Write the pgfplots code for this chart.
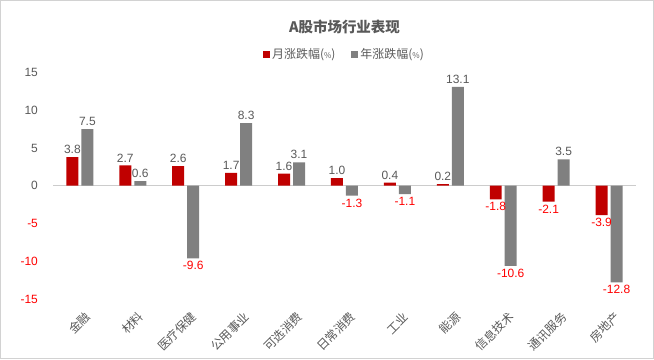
\documentclass[border=0pt]{standalone}
\usepackage{pgfplots}
\pgfplotsset{compat=1.18}
\usepackage{fontspec}
\setmainfont{Liberation Sans}
\newfontfamily\cjk{Noto Sans CJK SC}
\definecolor{mred}{HTML}{C00000}
\definecolor{mgray}{HTML}{808080}
\definecolor{tgray}{HTML}{595959}
\definecolor{nred}{HTML}{FF0000}
\begin{document}
\begin{tikzpicture}
\path[use as bounding box, draw=gray!35, line width=1pt] (-53pt,-60pt) rectangle (601pt,299pt);
\begin{axis}[
  at={(0,0)}, anchor=south west,
  scale only axis, width=583pt, height=227pt,
  ybar, bar width=12pt,
  xmin=-0.5, xmax=10.5, ymin=-15, ymax=15,
  axis line style={draw=none},
  xtick={0,...,10}, xtick style={draw=none},
  xticklabels={金融,材料,医疗保健,公用事业,可选消费,日常消费,工业,能源,信息技术,通讯服务,房地产},
  xticklabel style={font=\cjk\fontsize{12}{13}\selectfont, text=tgray, rotate=45, anchor=east, inner sep=0pt, yshift=-14pt, xshift=-2pt},
  ytick={-15,-10,-5,0,5,10,15}, ytick style={draw=none},
  yticklabels={\textcolor{nred}{-15},\textcolor{nred}{-10},\textcolor{nred}{-5},0,5,10,15},
  yticklabel style={font=\fontsize{12}{14}\selectfont, text=tgray, anchor=east},
  yticklabel shift=12pt,
  nodes near coords={\pgfmathfloatparsenumber{\pgfplotspointmeta}\pgfmathfloatifflags{\pgfmathresult}{-}{\color{nred}}{\color{tgray}}\pgfmathprintnumber[fixed,precision=1,fixed zerofill,assume math mode=true]{\pgfplotspointmeta}},
  every node near coord/.append style={font=\fontsize{12}{14}\selectfont, inner sep=3pt},
  legend style={at={(0.5,1.0)}, anchor=south, yshift=8pt, draw=none, fill=none, legend columns=2, font=\cjk\fontsize{12}{14}\selectfont, text=tgray, /tikz/every even column/.append style={column sep=14pt}},
  legend image code/.code={\fill[#1] (0pt,-3.5pt) rectangle (7pt,3.5pt);},
  title={\cjk\bfseries A股市场行业表现},
  title style={font=\fontsize{14.5}{16}\selectfont, text=tgray, yshift=29pt},
  clip=false,
]
\draw[gray!40, line width=0.8pt] (axis cs:-0.5,0) -- (axis cs:10.5,0);
\addplot[fill=mred, draw=none, bar shift=-7.5pt] coordinates {(0,3.8) (1,2.7) (2,2.6) (3,1.7) (4,1.6) (5,1.0) (6,0.4) (7,0.2) (8,-1.8) (9,-2.1) (10,-3.9)};
\addplot[fill=mgray, draw=none, bar shift=7.5pt] coordinates {(0,7.5) (1,0.6) (2,-9.6) (3,8.3) (4,3.1) (5,-1.3) (6,-1.1) (7,13.1) (8,-10.6) (9,3.5) (10,-12.8)};
\legend{月涨跌幅({\fontsize{8}{9}\selectfont\%}),年涨跌幅({\fontsize{8}{9}\selectfont\%})}
\end{axis}
\end{tikzpicture}
\end{document}
